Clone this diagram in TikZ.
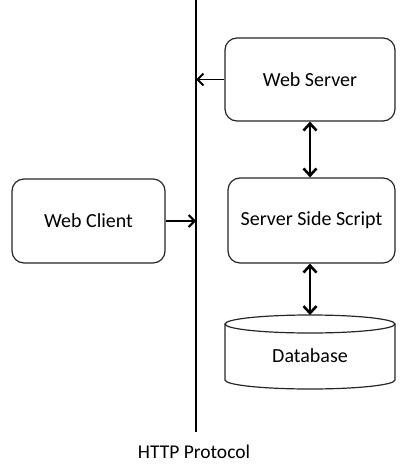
\documentclass[tikz,border=0pt]{standalone}
\usepackage{fontspec}
\setmainfont{Carlito}
\usetikzlibrary{arrows.meta}

\begin{document}
\begin{tikzpicture}[x=1pt,y=-1pt,
  box/.style={draw=black!85, line width=1.2pt, rounded corners=12pt, fill=white, font=\fontsize{20}{24}\selectfont},
  thinarrow/.style={line width=1.5pt, -{Straight Barb[length=6pt,width=12pt,line width=2pt]}},
  bothway/.style={line width=2.6pt, {Straight Barb[length=7pt,width=13pt,line width=2.6pt]}-{Straight Barb[length=7pt,width=13pt,line width=2.6pt]}}]
\useasboundingbox (0,0) rectangle (411,473);

\coordinate (T) at (196,0);
\coordinate (B) at (196,432);

\draw[line width=1.8pt] (T) -- (B); % protocol line
\node[anchor=base, font=\fontsize{19.5}{23}\selectfont] (http) at (194,458) {HTTP Protocol};

\node[box, minimum width=170pt, minimum height=83pt] (server) at (310,79.5) {Web Server};
\node[box, minimum width=167pt, minimum height=85pt] (script) at (311.5,220.5) {Server Side Script};
\node[box, minimum width=153pt, minimum height=84pt] (client) at (88.5,221) {Web Client};

% database cylinder
\coordinate (dbtop) at (310,315);
\draw[line width=1.2pt, draw=black!85] (225,324) -- (225,380) arc[start angle=180, end angle=0, x radius=85, y radius=9] -- (395,324);
\draw[line width=1.2pt, draw=black!85] (310,324) ellipse[x radius=85, y radius=9];
\node[font=\fontsize{20}{24}\selectfont] (db) at (310,356) {Database};

\draw[thinarrow] (server.west) -- (server.west -| T);
\draw[thinarrow] (client.east) -- (client.east -| T);
\draw[bothway] (server.south) -- (server.south |- script.north);
\draw[bothway] (script.south -| dbtop) -- (dbtop);
\end{tikzpicture}
\end{document}
